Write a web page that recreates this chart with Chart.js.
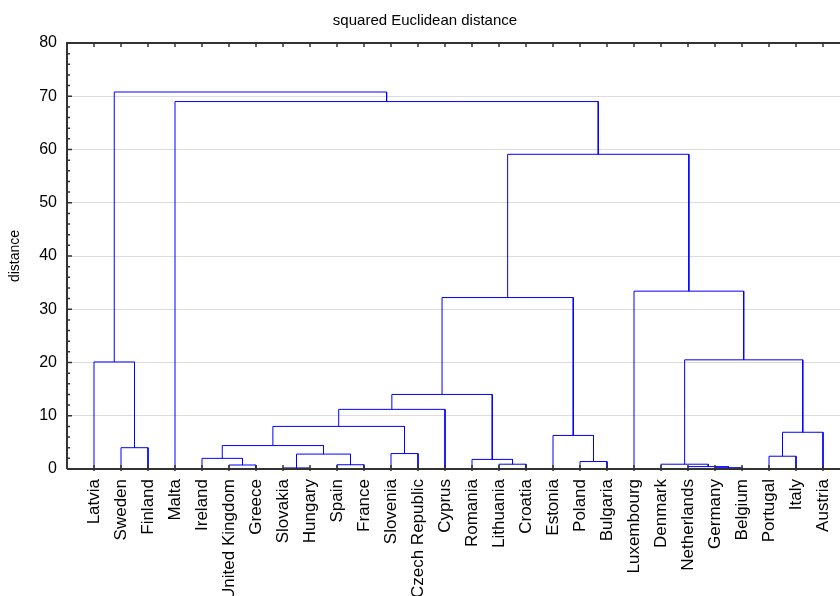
<!DOCTYPE html>
<html>
<head>
<meta charset="utf-8">
<script src="https://cdn.jsdelivr.net/npm/chart.js@4.4.1/dist/chart.umd.min.js"></script>
<style>
  html, body { margin: 0; padding: 0; background: #fff; overflow: hidden; }
  #wrap { width: 840px; height: 596px; overflow: hidden; }
</style>
</head>
<body>
<div id="wrap"><canvas id="myChart" width="912" height="596"></canvas></div>
<script>
// leaves in dendrogram order
var leaves = ["Latvia", "Sweden", "Finland", "Malta", "Ireland", "United Kingdom", "Greece",
  "Slovakia", "Hungary", "Spain", "France", "Slovenia", "Czech Republic", "Cyprus",
  "Romania", "Lithuania", "Croatia", "Estonia", "Poland", "Bulgaria", "Luxembourg",
  "Denmark", "Netherlands", "Germany", "Belgium", "Portugal", "Italy", "Austria"];

// merges: node ids 0..27 are leaves, merge k creates node 28 + k
var mergeLeft   = [7, 23, 22, 5, 9, 15, 21, 18, 14, 4, 25, 28, 11, 1, 37, 17, 38, 42, 45, 46, 0, 34, 47, 20, 50, 3, 48];
var mergeRight  = [8, 24, 29, 6, 10, 16, 30, 19, 33, 31, 26, 32, 12, 2, 39, 35, 27, 40, 13, 36, 41, 44, 43, 49, 51, 52, 53];
var mergeHeight = [0.2, 0.25, 0.45, 0.75, 0.8, 0.9, 0.9, 1.4, 1.8, 2.0, 2.4, 2.8, 2.9, 4.0, 4.4, 6.3, 6.9, 8.0, 11.2, 14.0, 20.1, 20.5, 32.2, 33.4, 59.1, 69.0, 70.8];

var yTickValues = [0, 10, 20, 30, 40, 50, 60, 70, 80];

var FONT = "'Liberation Sans', Arial, sans-serif";

// node positions in data units (leaf i sits at x = i + 1)
var nodeX = leaves.map(function (l, i) { return i + 1; });
var nodeH = leaves.map(function () { return 0; });
mergeLeft.forEach(function (a, k) {
  var b = mergeRight[k];
  nodeX.push((nodeX[a] + nodeX[b]) / 2);
  nodeH.push(mergeHeight[k]);
});

var datasets = mergeLeft.map(function (a, k) {
  var b = mergeRight[k];
  var h = mergeHeight[k];
  return {
    data: [
      { x: nodeX[a], y: nodeH[a] },
      { x: nodeX[a], y: h },
      { x: nodeX[b], y: h },
      { x: nodeX[b], y: nodeH[b] }
    ],
    showLine: true,
    tension: 0,
    fill: false,
    pointRadius: 0,
    borderColor: "#0000ff",
    borderWidth: 1
  };
});

// frame and inward tick marks like the original plot
var frame = {
  id: "frame",
  afterDraw: function (chart) {
    var c = chart.ctx, a = chart.chartArea;
    var xs = chart.scales.x, ys = chart.scales.y;
    c.save();
    c.strokeStyle = "#333";
    c.lineWidth = 2;
    c.beginPath();
    c.moveTo(a.left, a.bottom); c.lineTo(a.left, a.top); c.lineTo(a.right, a.top);
    c.moveTo(a.left, a.bottom); c.lineTo(a.right, a.bottom);
    c.stroke();
    c.lineWidth = 1.5;
    c.beginPath();
    leaves.forEach(function (l, i) {
      var px = xs.getPixelForValue(i + 1);
      c.moveTo(px, a.top); c.lineTo(px, a.top + 4);
      c.moveTo(px, a.bottom - 4); c.lineTo(px, a.bottom + 2);
    });
    for (var v = 0; v <= 80; v += 2) {
      var py = ys.getPixelForValue(v);
      c.moveTo(a.left, py); c.lineTo(a.left + (v % 10 === 0 ? 5 : 3), py);
    }
    c.stroke();
    c.restore();
  }
};

var ctx = document.getElementById("myChart").getContext("2d");
var myChart = new Chart(ctx, {
  type: "scatter",
  data: { datasets: datasets },
  options: {
    responsive: false,
    animation: false,
    layout: { padding: { left: 0, right: 62, top: 0, bottom: 0 } },
    plugins: {
      legend: { display: false },
      tooltip: { enabled: false },
      title: {
        display: true,
        text: "squared Euclidean distance",
        color: "#000",
        font: { family: FONT, size: 15, weight: "normal" },
        padding: { top: 12, bottom: 13 }
      }
    },
    scales: {
      x: {
        type: "linear",
        min: 0,
        max: 29,
        afterBuildTicks: function (s) {
          s.ticks = leaves.map(function (l, i) { return { value: i + 1 }; });
        },
        afterFit: function (s) { s.height = 127; },
        grid: { display: false, drawTicks: false },
        border: { display: false },
        ticks: {
          autoSkip: false,
          maxRotation: 90,
          minRotation: 90,
          padding: 10,
          color: "#000",
          font: { family: FONT, size: 17 },
          callback: function (v) { return leaves[v - 1] || ""; }
        }
      },
      y: {
        min: 0,
        max: 80,
        afterBuildTicks: function (s) {
          s.ticks = yTickValues.map(function (v) { return { value: v }; });
        },
        afterFit: function (s) { s.width = 67; },
        grid: { color: "#dcdcdc", lineWidth: 1, drawTicks: false },
        border: { display: false },
        ticks: {
          padding: 10,
          color: "#000",
          font: { family: FONT, size: 16 }
        },
        title: {
          display: true,
          text: "distance",
          color: "#000",
          font: { family: FONT, size: 14 },
          padding: { top: 7, bottom: 0 }
        }
      }
    }
  },
  plugins: [frame]
});
</script>
</body>
</html>
